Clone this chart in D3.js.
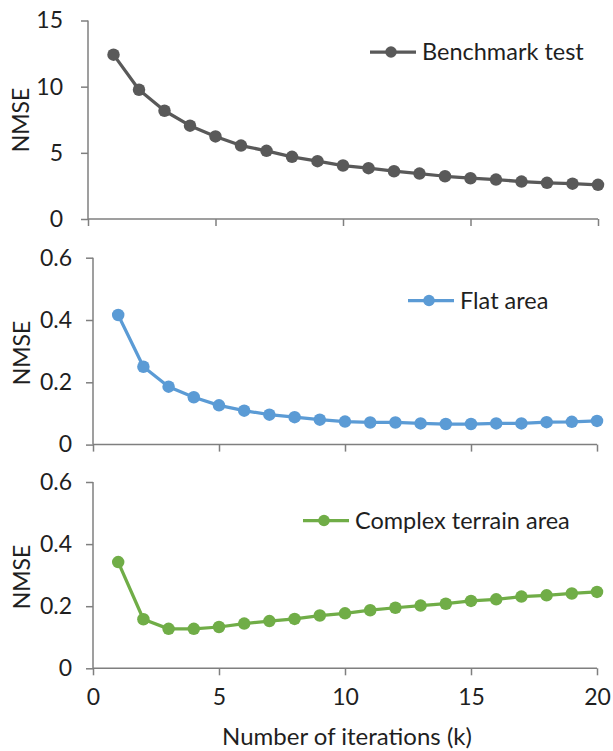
<!DOCTYPE html>
<html>
<head>
<meta charset="utf-8">
<script src="https://cdn.jsdelivr.net/npm/d3@7"></script>
<style>
  html, body { margin: 0; padding: 0; background: #fff; }
  svg { display: block; }
  text { font-family: Lato, "Open Sans", sans-serif; fill: #1f1f1f; }
</style>
</head>
<body>
<div id="chart"></div>
<script>
// ── Data ──
const iterations = d3.range(1, 21);

const benchmark = [12.42, 9.77, 8.18, 7.05, 6.24, 5.55, 5.15, 4.70, 4.37, 4.04,
                   3.84, 3.61, 3.43, 3.23, 3.08, 2.98, 2.83, 2.73, 2.67, 2.58];
const flatArea = [0.416, 0.250, 0.186, 0.152, 0.126, 0.109, 0.096, 0.088, 0.080, 0.074,
                  0.071, 0.071, 0.068, 0.066, 0.066, 0.068, 0.068, 0.072, 0.073, 0.076];
const complexTerrain = [0.342, 0.158, 0.127, 0.127, 0.133, 0.144, 0.152, 0.159, 0.170, 0.177,
                        0.187, 0.195, 0.202, 0.208, 0.217, 0.222, 0.231, 0.235, 0.241, 0.246];

const seriesNames = ["Benchmark test", "Flat area", "Complex terrain area"];
const xTicks = [0, 5, 10, 15, 20];
const yTicksTop = [0, 5, 10, 15];
const yTicksSmall = [0, 0.2, 0.4, 0.6];

const WIDTH = 613;
const HEIGHT = 751;

// ── Panel layout (pixels) ──
const panels = [
    { name: seriesNames[0], values: benchmark, color: "#595959",
      x0: 88, x1: 598, y0: 219, y1: 20.5, yMax: 15, yTicks: yTicksTop,
      fmt: d => d, labelGap: 25, nmseX: 29, nmseY: 120, legend: [370, 52] },
    { name: seriesNames[1], values: flatArea, color: "#5b9bd5",
      x0: 93, x1: 597, y0: 444.6, y1: 257.7, yMax: 0.6, yTicks: yTicksSmall,
      fmt: d => d === 0 ? "0" : d3.format(".1f")(d), labelGap: 21, nmseX: 30, nmseY: 353, legend: [408, 300.5] },
    { name: seriesNames[2], values: complexTerrain, color: "#70ad47",
      x0: 93, x1: 597, y0: 668.3, y1: 482, yMax: 0.6, yTicks: yTicksSmall,
      fmt: d => d === 0 ? "0" : d3.format(".1f")(d), labelGap: 21, nmseX: 30, nmseY: 577, legend: [303, 520.5] },
];

const svg = d3.select("#chart")
    .append("svg")
    .attr("width", WIDTH)
    .attr("height", HEIGHT);

const AXIS_COLOR = "#7f7f7f";

panels.forEach((p, i) => {
    const x = d3.scaleLinear().domain([0, 20]).range([p.x0, p.x1]);
    const y = d3.scaleLinear().domain([0, p.yMax]).range([p.y0, p.y1]);
    const g = svg.append("g").attr("class", "panel");

    // y axis
    const yAxis = g.append("g")
        .attr("transform", `translate(${p.x0},0)`)
        .call(d3.axisLeft(y).tickValues(p.yTicks).tickSize(7).tickPadding(p.labelGap - 7).tickFormat(p.fmt));

    // x axis (labels only on the bottom panel)
    const xAxis = g.append("g")
        .attr("transform", `translate(0,${p.y0})`)
        .call(d3.axisBottom(x).tickValues(xTicks).tickSize(7).tickPadding(13)
            .tickFormat(i === panels.length - 1 ? d => d : () => ""));

    [yAxis, xAxis].forEach(ax => {
        ax.select(".domain").attr("stroke", AXIS_COLOR).attr("stroke-width", 1.5);
        ax.selectAll(".tick line").attr("stroke", AXIS_COLOR).attr("stroke-width", 1.5);
        ax.selectAll(".tick text")
            .attr("fill", "#1f1f1f")
            .style("font-family", "Lato, sans-serif")
            .style("font-size", "23px");
    });
    // plain domain lines, no outer ticks
    yAxis.select(".domain").attr("d", `M0,${p.y0}V${p.y1}`);
    xAxis.select(".domain").attr("d", `M${p.x0},0H${p.x1}`);

    // y label
    g.append("text")
        .attr("transform", `translate(${p.nmseX},${p.nmseY}) rotate(-90)`)
        .attr("text-anchor", "middle")
        .style("font-size", "23px")
        .text("NMSE");

    // series line + markers
    const line = d3.line()
        .x((d, j) => x(iterations[j]))
        .y(d => y(d));

    g.append("path")
        .datum(p.values)
        .attr("fill", "none")
        .attr("stroke", p.color)
        .attr("stroke-width", 3.25)
        .attr("stroke-linejoin", "round")
        .attr("d", line);

    g.selectAll("circle.pt")
        .data(p.values)
        .enter()
        .append("circle")
        .attr("class", "pt")
        .attr("cx", (d, j) => x(iterations[j]))
        .attr("cy", d => y(d))
        .attr("r", 6.25)
        .attr("fill", p.color);

    // legend
    const [lx, ly] = p.legend;
    const lg = g.append("g").attr("transform", `translate(${lx},${ly})`);
    lg.append("line")
        .attr("x1", 0).attr("x2", 46)
        .attr("y1", 0).attr("y2", 0)
        .attr("stroke", p.color).attr("stroke-width", 3.25);
    lg.append("circle").attr("cx", 21).attr("cy", 0).attr("r", 5.75).attr("fill", p.color);
    lg.append("text")
        .attr("x", 52).attr("y", 0)
        .attr("dy", "0.35em")
        .style("font-size", "23.5px")
        .text(p.name);
});

// x axis title
svg.append("text")
    .attr("x", 347)
    .attr("y", 745)
    .attr("text-anchor", "middle")
    .style("font-size", "24px")
    .text("Number of iterations (k)");
</script>
</body>
</html>
